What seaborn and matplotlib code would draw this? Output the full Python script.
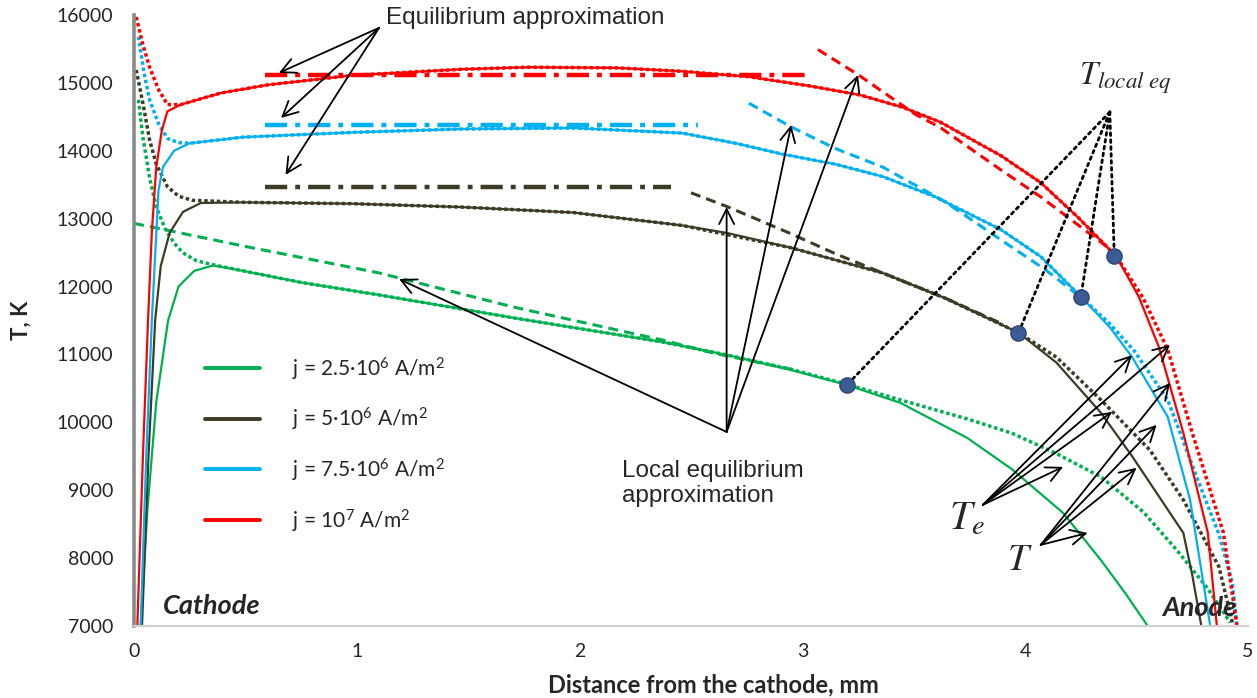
import numpy as np
import pandas as pd
import matplotlib
matplotlib.use('Agg')
import matplotlib.pyplot as plt
import seaborn as sns

# ---- data (x in mm, T in K) ----
# T (heavy particles), solid lines
green_x = [0.03, 0.06, 0.10, 0.153, 0.20, 0.27, 0.355, 0.49, 0.75, 1.10, 1.70, 2.37, 2.66, 2.95, 3.20, 3.44, 3.74, 3.94, 4.17, 4.34, 4.45, 4.55]
green_T = [7000, 8700, 10300, 11500, 12000, 12230, 12310, 12230, 12060, 11876, 11540, 11184, 10993, 10770, 10550, 10286, 9770, 9310, 8666, 7970, 7480, 7000]
dark_x = [0.036, 0.065, 0.095, 0.12, 0.16, 0.22, 0.30, 0.49, 0.98, 1.47, 1.97, 2.46, 2.66, 2.95, 3.36, 3.64, 3.97, 4.14, 4.34, 4.48, 4.56, 4.71, 4.75, 4.79]
dark_T = [7000, 9500, 11500, 12300, 12790, 13100, 13230, 13240, 13220, 13170, 13090, 12900, 12790, 12570, 12200, 11830, 11320, 10880, 10140, 9500, 9107, 8370, 7750, 7016]
blue_x = [0.03, 0.055, 0.08, 0.11, 0.13, 0.18, 0.25, 0.49, 0.98, 1.47, 1.97, 2.46, 2.70, 2.91, 3.15, 3.36, 3.59, 3.89, 4.07, 4.25, 4.38, 4.48, 4.64, 4.74, 4.83]
blue_T = [7000, 9500, 11500, 13420, 13760, 14000, 14110, 14200, 14270, 14320, 14335, 14260, 14110, 13950, 13800, 13620, 13330, 12840, 12440, 11850, 11400, 10960, 10080, 8860, 7016]
red_x = [0.015, 0.04, 0.063, 0.08, 0.10, 0.125, 0.15, 0.21, 0.39, 0.60, 0.98, 1.47, 1.77, 2.17, 2.46, 2.76, 3.04, 3.26, 3.45, 3.62, 3.89, 4.07, 4.24, 4.41, 4.51, 4.60, 4.71, 4.82, 4.86]
red_T = [7000, 9500, 11500, 12800, 13760, 14300, 14580, 14680, 14850, 14970, 15110, 15200, 15230, 15220, 15170, 15090, 14950, 14820, 14640, 14420, 13930, 13530, 13010, 12440, 11850, 11110, 9844, 8370, 7016]

# Te (electrons), dotted lines
green_xe = [0.02, 0.04, 0.07, 0.10, 0.14, 0.18, 0.22, 0.28, 0.355, 0.49, 0.75, 1.10, 1.70, 2.37, 2.66, 2.95, 3.20, 3.44, 3.74, 3.94, 4.14, 4.34, 4.53, 4.68, 4.82, 4.92]
green_Te = [14750, 14200, 13600, 13170, 12850, 12640, 12495, 12380, 12320, 12230, 12060, 11876, 11540, 11184, 10993, 10780, 10560, 10330, 10050, 9840, 9540, 9196, 8680, 8120, 7550, 7050]
dark_xe = [0.01, 0.04, 0.07, 0.10, 0.15, 0.20, 0.26, 0.49, 0.98, 1.47, 1.97, 2.46, 2.95, 3.36, 3.64, 3.97, 4.14, 4.34, 4.56, 4.71, 4.87, 4.93]
dark_Te = [15190, 14700, 14160, 13800, 13470, 13330, 13270, 13240, 13220, 13170, 13090, 12900, 12570, 12200, 11830, 11320, 10960, 10330, 9590, 8857, 7870, 7050]
blue_xe = [0.02, 0.045, 0.07, 0.11, 0.15, 0.20, 0.25, 0.49, 0.98, 1.47, 1.97, 2.46, 2.70, 2.91, 3.15, 3.36, 3.59, 3.89, 4.07, 4.25, 4.38, 4.49, 4.64, 4.78, 4.87, 4.93, 4.95]
blue_Te = [15680, 15150, 14750, 14400, 14180, 14120, 14110, 14200, 14270, 14320, 14335, 14260, 14110, 13950, 13800, 13620, 13330, 12840, 12440, 11850, 11450, 11050, 10330, 9107, 8350, 7635, 7016]
red_xe = [0.01, 0.04, 0.07, 0.11, 0.15, 0.21, 0.39, 0.60, 0.98, 1.47, 1.77, 2.17, 2.46, 2.76, 3.04, 3.26, 3.45, 3.62, 3.89, 4.07, 4.24, 4.41, 4.53, 4.64, 4.75, 4.89, 4.95]
red_Te = [15970, 15560, 15230, 14900, 14680, 14680, 14850, 14970, 15110, 15200, 15230, 15220, 15170, 15090, 14950, 14820, 14640, 14420, 13930, 13530, 13010, 12440, 11830, 11070, 9844, 8370, 7016]

# local equilibrium approximation, dashed
green_xl = [0.0, 0.5, 1.10, 1.70, 2.37, 2.60, 2.95]
green_Tl = [12930, 12590, 12200, 11700, 11213, 11020, 10780]
dark_xl = [2.50, 2.66, 2.94, 3.15, 3.36, 3.64, 3.89]
dark_Tl = [13380, 13180, 12790, 12480, 12200, 11830, 11460]
blue_xl = [2.76, 2.95, 3.15, 3.36, 3.64, 3.89, 4.09, 4.25]
blue_Tl = [14700, 14350, 14030, 13760, 13250, 12690, 12250, 11840]
red_xl = [3.07, 3.25, 3.51, 3.62, 3.89, 4.07, 4.37]
red_Tl = [15490, 15120, 14530, 14340, 13720, 13320, 12580]

# equilibrium approximation, dash-dot
dark_xq = [0.59, 2.41]
dark_Tq = [13460, 13460]
blue_xq = [0.59, 2.53]
blue_Tq = [14380, 14380]
red_xq = [0.59, 3.04]
red_Tq = [15110, 15110]

# points where T reaches local equilibrium
dot_x = [3.20, 3.97, 4.25, 4.40]
dot_T = [10550, 11316, 11847, 12450]

labels = ['j = 2.5·10$^{\\mathregular{6}}$ A/m$^{\\mathregular{2}}$',
          'j = 5·10$^{\\mathregular{6}}$ A/m$^{\\mathregular{2}}$',
          'j = 7.5·10$^{\\mathregular{6}}$ A/m$^{\\mathregular{2}}$',
          'j = 10$^{\\mathregular{7}}$ A/m$^{\\mathregular{2}}$']
colors = ['#00b050', '#3d3b26', '#00b0f0', '#ff0000']


def frame(xs, ys, labs):
    parts = [pd.DataFrame({'x': x, 'T': y, 'j': lab}) for x, y, lab in zip(xs, ys, labs)]
    return pd.concat(parts, ignore_index=True)


solid = frame([green_x, dark_x, blue_x, red_x], [green_T, dark_T, blue_T, red_T], labels)
dotted = frame([green_xe, dark_xe, blue_xe, red_xe], [green_Te, dark_Te, blue_Te, red_Te], labels)
dashed = frame([green_xl, dark_xl, blue_xl, red_xl], [green_Tl, dark_Tl, blue_Tl, red_Tl], labels)
dashdot = frame([dark_xq, blue_xq, red_xq], [dark_Tq, blue_Tq, red_Tq], labels[1:])

sns.set_style('white')
plt.rcParams['font.family'] = ['Lato', 'DejaVu Sans']
plt.rcParams['mathtext.fontset'] = 'stix'

fig = plt.figure(figsize=(12.57, 6.98), dpi=100)
ax = fig.add_axes([0.1066, 0.1032, 0.8862, 0.8754])

pal = dict(zip(labels, colors))
common = dict(x='x', y='T', hue='j', palette=pal, estimator=None, sort=False, legend=False, ax=ax)
sns.lineplot(data=dotted, lw=2.5, linestyle=(0, (1, 0.8)), **common)
sns.lineplot(data=dashed, lw=2.2, linestyle=(0, (3.3, 2)), **common)
sns.lineplot(data=dashdot, lw=3.2, linestyle=(0, (5, 1.8, 1.1, 1.8)), **common)
n_before = len(ax.lines)
sns.lineplot(data=solid, lw=1.6, **common)
solid_lines = ax.lines[n_before:]

# dotted connectors from the T_local eq label to the points
apex = (4.38, 14571)
for px, py in zip(dot_x, dot_T):
    ax.annotate('', xy=(px, py), xytext=apex,
                arrowprops=dict(arrowstyle='-', lw=2.0, linestyle=(0, (1, 1.5)), color='black',
                                shrinkA=0, shrinkB=0))
sns.scatterplot(x=dot_x, y=dot_T, s=120, color='#3b5c94', edgecolor='#2b4676', linewidth=1, zorder=6, ax=ax)

arrow = dict(arrowstyle='->,head_length=0.9,head_width=0.45', lw=1.3, color='black',
             shrinkA=0, shrinkB=0, mutation_scale=12)

# equilibrium approximation
ax.text(1.13, 15956, 'Equilibrium approximation', fontsize=17.5, family=['Liberation Sans'], va='center')
for tip in [(0.65, 15146), (0.66, 14483), (0.68, 13644)]:
    ax.annotate('', xy=tip, xytext=(1.10, 15810), arrowprops=arrow)

# local equilibrium approximation
ax.text(2.19, 9100, 'Local equilibrium\napproximation', fontsize=17.5, family=['Liberation Sans'],
        va='center', linespacing=1.15)
for tip in [(1.19, 12110), (2.66, 13170), (2.95, 14380), (3.25, 15116)]:
    ax.annotate('', xy=tip, xytext=(2.66, 9858), arrowprops=arrow)

# Te and T labels
ax.text(3.66, 8415, r'$T_e$', fontsize=29, va='baseline')
for tip in [(4.17, 9343), (4.39, 10153), (4.48, 10990), (4.65, 11140)]:
    ax.annotate('', xy=tip, xytext=(3.81, 8784), arrowprops=arrow)
ax.text(3.92, 7826, r'$T$', fontsize=27, va='baseline')
for tip in [(4.28, 8370), (4.50, 9329), (4.59, 9962), (4.65, 10580)]:
    ax.annotate('', xy=tip, xytext=(4.07, 8194), arrowprops=arrow)
ax.text(4.24, 14970, r'$T_{local\ eq}$', fontsize=23.5, va='baseline')

ax.text(0.13, 7296, 'Cathode', fontsize=19.5, fontweight='bold', fontstyle='italic', va='center')
ax.text(4.95, 7270, 'Anode', fontsize=19.5, fontweight='bold', fontstyle='italic', va='center', ha='right')

leg = ax.legend(handles=solid_lines, labels=labels, loc='center left', bbox_to_anchor=(0.32, 9675),
                bbox_transform=ax.transData, frameon=False, fontsize=15, handlelength=2.64,
                handletextpad=1.5, labelspacing=1.15, borderpad=0, borderaxespad=0)
for l in leg.get_lines():
    l.set_linewidth(2.8)

ax.set_xlim(0, 5)
ax.set_ylim(7000, 16000)
ax.set_xticks(range(0, 6))
ax.set_yticks(range(7000, 16001, 1000))
ax.tick_params(axis='both', length=0, labelsize=14)
ax.tick_params(axis='x', pad=12)
ax.tick_params(axis='y', pad=15)
for s in ['top', 'right']:
    ax.spines[s].set_visible(False)
ax.spines['left'].set_color('#8a8a8a')
ax.spines['left'].set_linewidth(2.6)
ax.spines['bottom'].set_color('#d0d0d0')
ax.spines['bottom'].set_linewidth(1.5)

ax.set_xlabel('Distance from the cathode, mm', fontsize=17, fontweight='bold')
ax.set_ylabel('T, K', fontsize=16, fontweight='bold')
ax.xaxis.set_label_coords(0.52, -0.077)
ax.yaxis.set_label_coords(-0.0916, 0.5)

plt.savefig('out.png', dpi=100)
